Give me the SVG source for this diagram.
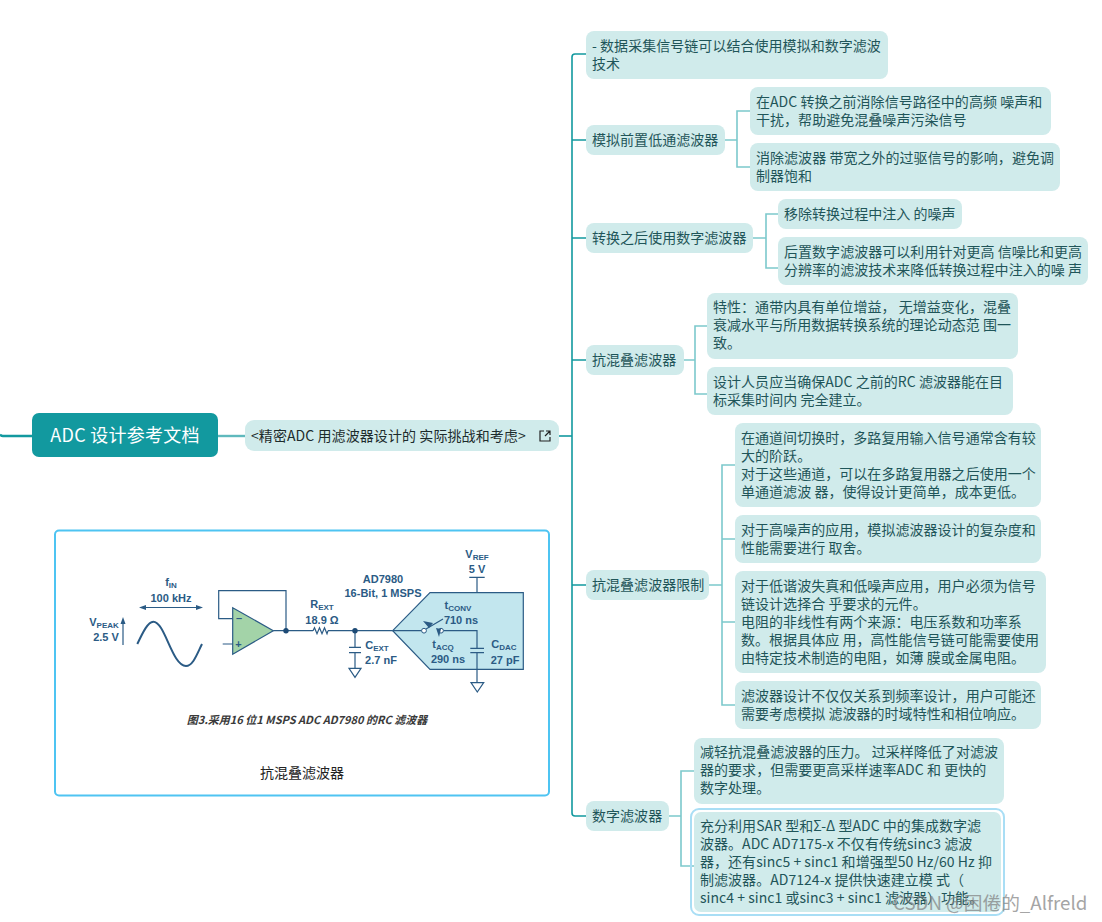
<svg xmlns="http://www.w3.org/2000/svg" width="1102" height="922" viewBox="0 0 1102 922">
<style>
text{font-family:"Noto Sans CJK SC","Noto Sans",sans-serif}
.n{fill:#d0ebeb}
.t{font-size:14px;fill:#1f5559;letter-spacing:.04px}
.l1{fill:none;stroke:#12999f;stroke-width:1.6}
.l2{fill:none;stroke:#7cc9cc;stroke-width:1.6}
.c{fill:none;stroke:#2b5b85;stroke-width:1.2}
.e{font-family:"Liberation Sans",sans-serif;font-size:11px;font-weight:bold;fill:#2b5b85;text-anchor:middle}
.s{font-size:8px}
</style>
<rect width="1102" height="922" fill="#fff"/>
<g id="connectors">
<path d="M0 434.500Q1 436 3 436H32" fill="none" stroke="#12999f" stroke-width="2.400"/>
<path d="M218 436H245" fill="none" stroke="#5fb9bd" stroke-width="2.400"/>
<path class="l1" d="M559 436H572"/>
<path class="l1" d="M586 54H575Q572 54 572 57V813Q572 816 575 816H586"/>
<path class="l1" d="M572 140H586M572 238H586M572 360H586M572 585H586"/>
<path class="l2" d="M725 140H737M750 111H737V167H750"/>
<path class="l2" d="M753 238H766M778 214H766V268H778"/>
<path class="l2" d="M684 360H695M707 326H695V394H707"/>
<path class="l2" d="M709 585H722M735 465H722V705H735M722 539H735M722 622H735"/>
<path class="l2" d="M669 816H681M694 771H681V866H694"/>
</g>
<g id="root"><rect x="32" y="413" width="186" height="44" rx="7" fill="#12999f"/><text x="125" y="442" text-anchor="middle" font-size="18" letter-spacing=".25" fill="#fff">ADC 设计参考文档</text></g>
<g id="doc"><rect class="n" x="245" y="420" width="314" height="31" rx="9"/><text x="251" y="441" font-size="14" letter-spacing=".08" fill="#1c2b2c">&lt;精密ADC 用滤波器设计的 实际挑战和考虑&gt;</text>
<path d="M544 431H540V441H550V437M545 436L550 431M546 431H550V435" fill="none" stroke="#222" stroke-width="1.200"/></g>
<g id="n1"><rect class="n" x="586" y="31" width="302" height="48" rx="8"/><text class="t" x="592" y="51">- 数据采集信号链可以结合使用模拟和数字滤波</text><text class="t" x="592" y="69">技术</text></g>
<g id="n2"><rect class="n" x="586" y="125" width="139" height="30" rx="8"/><text class="t" x="592" y="145">模拟前置低通滤波器</text></g>
<g id="n21"><rect class="n" x="750" y="87" width="301" height="48" rx="8"/><text class="t" x="756" y="107">在ADC 转换之前消除信号路径中的高频 噪声和</text><text class="t" x="756" y="125">干扰，帮助避免混叠噪声污染信号</text></g>
<g id="n22"><rect class="n" x="750" y="143" width="310" height="48" rx="8"/><text class="t" x="756" y="163">消除滤波器 带宽之外的过驱信号的影响，避免调</text><text class="t" x="756" y="181">制器饱和</text></g>
<g id="n3"><rect class="n" x="586" y="223" width="167" height="30" rx="8"/><text class="t" x="592" y="243">转换之后使用数字滤波器</text></g>
<g id="n31"><rect class="n" x="778" y="199" width="184" height="30" rx="8"/><text class="t" x="784" y="219">移除转换过程中注入 的噪声</text></g>
<g id="n32"><rect class="n" x="778" y="237" width="310" height="48" rx="8"/><text class="t" x="784" y="257">后置数字滤波器可以利用针对更高 信噪比和更高</text><text class="t" x="784" y="275">分辨率的滤波技术来降低转换过程中注入的噪 声</text></g>
<g id="n4"><rect class="n" x="586" y="345" width="98" height="30" rx="8"/><text class="t" x="592" y="365">抗混叠滤波器</text></g>
<g id="n41"><rect class="n" x="707" y="293" width="311" height="66" rx="8"/><text class="t" x="713" y="312">特性：通带内具有单位增益， 无增益变化，混叠</text><text class="t" x="713" y="330">衰减水平与所用数据转换系统的理论动态范 围一</text><text class="t" x="713" y="348">致。</text></g>
<g id="n42"><rect class="n" x="707" y="367" width="306" height="48" rx="8"/><text class="t" x="713" y="387">设计人员应当确保ADC 之前的RC 滤波器能在目</text><text class="t" x="713" y="405">标采集时间内 完全建立。</text></g>
<g id="n5"><rect class="n" x="586" y="570" width="123" height="30" rx="8"/><text class="t" x="592" y="590">抗混叠滤波器限制</text></g>
<g id="n51"><rect class="n" x="735" y="423" width="306" height="84" rx="8"/><text class="t" x="741" y="443">在通道间切换时，多路复用输入信号通常含有较</text><text class="t" x="741" y="461">大的阶跃。</text><text class="t" x="741" y="479">对于这些通道，可以在多路复用器之后使用一个</text><text class="t" x="741" y="497">单通道滤波 器，使得设计更简单，成本更低。</text></g>
<g id="n52"><rect class="n" x="735" y="515" width="306" height="48" rx="8"/><text class="t" x="741" y="535">对于高噪声的应用，模拟滤波器设计的复杂度和</text><text class="t" x="741" y="553">性能需要进行 取舍。</text></g>
<g id="n53"><rect class="n" x="735" y="571" width="311" height="102" rx="8"/><text class="t" x="741" y="591">对于低谐波失真和低噪声应用，用户必须为信号</text><text class="t" x="741" y="609">链设计选择合 乎要求的元件。</text><text class="t" x="741" y="627">电阻的非线性有两个来源：电压系数和功率系</text><text class="t" x="741" y="645">数。根据具体应 用，高性能信号链可能需要使用</text><text class="t" x="741" y="663">由特定技术制造的电阻，如薄 膜或金属电阻。</text></g>
<g id="n54"><rect class="n" x="735" y="681" width="306" height="48" rx="8"/><text class="t" x="741" y="701">滤波器设计不仅仅关系到频率设计，用户可能还</text><text class="t" x="741" y="719">需要考虑模拟 滤波器的时域特性和相位响应。</text></g>
<g id="n6"><rect class="n" x="586" y="801" width="83" height="30" rx="8"/><text class="t" x="592" y="821">数字滤波器</text></g>
<g id="n61"><rect class="n" x="694" y="738" width="310" height="66" rx="8"/><text class="t" x="700" y="757">减轻抗混叠滤波器的压力。 过采样降低了对滤波</text><text class="t" x="700" y="775">器的要求，但需要更高采样速率ADC 和 更快的</text><text class="t" x="700" y="793">数字处理。</text></g>
<g id="n62"><rect x="691" y="809" width="313" height="106" rx="8" fill="none" stroke="#a9def5" stroke-width="2"/><rect class="n" x="694" y="812" width="307" height="100" rx="7"/><text class="t" x="700" y="831">充分利用SAR 型和Σ-Δ 型ADC 中的集成数字滤</text><text class="t" x="700" y="849">波器。ADC AD7175-x 不仅有传统sinc3 滤波</text><text class="t" x="700" y="867">器，还有sinc5 + sinc1 和增强型50 Hz/60 Hz 抑</text><text class="t" x="700" y="885">制滤波器。AD7124-x 提供快速建立模 式（</text><text class="t" x="700" y="903">sinc4 + sinc1 或sinc3 + sinc1 滤波器）功能。</text></g>
<g id="figure">
<rect x="55" y="530.500" width="494" height="265" rx="4" fill="#fff" stroke="#4ec4f2" stroke-width="2"/>
<path d="M137.300 644C143 632 148 621.700 153.300 621.700C165 621.700 172 666 186 666C193 666 197 654 202 644" fill="none" stroke="#2b5b85" stroke-width="2"/>
<path class="c" d="M143 607.500H199M123 645V622"/>
<path d="M139 607.500l7-2.500v5zM203 607.500l-7-2.500v5zM123 617l2.500 7h-5z" fill="#2b5b85"/>
<polygon points="232.700,607.700 232.700,654.300 273.300,630.700" fill="#a3d3a8" stroke="#2b5b85" stroke-width="1.200"/>
<path class="c" d="M232.700 618.700H218.700V590.700H286V630.700M222.700 644H232.700M273.300 630.700H313M328 630.700H392.700M313 630.700l1.500-3 2.500 6 2.500-6 2.500 6 2.500-6 2.500 6 1 -3M355 630.700V647.300M349 647.300H361M349 652.700H361M355 652.700V668.300M469.300 577.300H484.700M477 577.300V592.700"/>
<polygon points="349,668.300 361,668.300 355,677.300" fill="#fff" stroke="#2b5b85" stroke-width="1.200"/>
<polygon points="392.700,630.700 430,592.700 523.300,592.700 523.300,669.300 430,669.300" fill="#c2e6ee" stroke="#2b5b85" stroke-width="1.200"/>
<path class="c" d="M392.700 630.700H421.600M443.500 630.700H477V648.300M470.300 648.300H484M470.300 652.700H484M477 652.700V682.700M426 629L443 619"/>
<circle cx="424" cy="630.700" r="2.400" fill="#fff" stroke="#2b5b85"/><circle cx="441" cy="630.700" r="2.400" fill="#fff" stroke="#2b5b85"/>
<polygon points="471,682.700 483.700,682.700 477.300,692" fill="#fff" stroke="#2b5b85" stroke-width="1.200"/>
<path d="M423 621l10 2-4 5zM439 637l-3-9 5 1z" fill="#2b5b85"/>
<circle cx="286" cy="630.700" r="2.700" fill="#1d4a75"/><circle cx="355" cy="630.700" r="2.700" fill="#1d4a75"/>
<text class="e" x="239" y="622">–</text><text class="e" x="238.500" y="648">+</text>
<text class="e" x="171" y="586">f<tspan class="s" dy="2">IN</tspan></text>
<text class="e" x="171" y="602">100 kHz</text>
<text class="e" x="104" y="626">V<tspan class="s" dy="2">PEAK</tspan></text>
<text class="e" x="106" y="641">2.5 V</text>
<text class="e" x="322" y="608">R<tspan class="s" dy="2">EXT</tspan></text>
<text class="e" x="322" y="624">18.9 Ω</text>
<text class="e" x="377" y="649">C<tspan class="s" dy="2">EXT</tspan></text>
<text class="e" x="381" y="664">2.7 nF</text>
<text class="e" x="383" y="583" font-size="12">AD7980</text>
<text class="e" x="383" y="597">16-Bit, 1 MSPS</text>
<text class="e" x="477" y="558">V<tspan class="s" dy="2">REF</tspan></text>
<text class="e" x="477" y="573">5 V</text>
<text class="e" x="458" y="609">t<tspan class="s" dy="2">CONV</tspan></text>
<text class="e" x="461" y="624">710 ns</text>
<text class="e" x="443" y="648">t<tspan class="s" dy="2">ACQ</tspan></text>
<text class="e" x="448" y="663">290 ns</text>
<text class="e" x="504" y="648">C<tspan class="s" dy="2">DAC</tspan></text>
<text class="e" x="505" y="664">27 pF</text>
<text x="307" y="724" text-anchor="middle" font-size="11" font-weight="bold" font-style="italic" fill="#3a3a3a">图3.采用16 位1 MSPS ADC AD7980 的RC 滤波器</text>
<text x="302" y="778" text-anchor="middle" font-size="14" fill="#222">抗混叠滤波器</text>
</g>
<text x="893" y="910" font-size="18.700" fill="#808080" opacity=".7">CSDN @困倦的_Alfreld</text>
</svg>
